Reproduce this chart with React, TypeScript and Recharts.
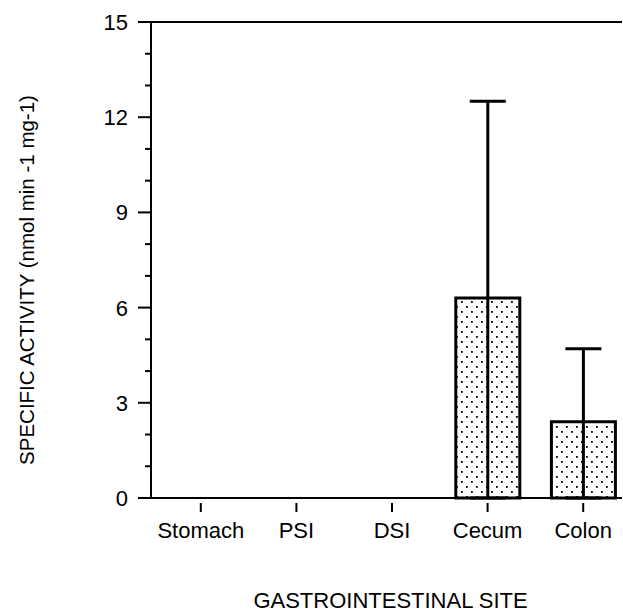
import { BarChart, Bar, XAxis, YAxis, ErrorBar, ReferenceLine, Label } from 'recharts'

const sites = ['Stomach', 'PSI', 'DSI', 'Cecum', 'Colon']
const meanActivity = [0, 0, 0, 6.3, 2.4]
const sdActivity = [0, 0, 0, 6.2, 2.3]
const yTicks = [0, 1, 2, 3, 4, 5, 6, 7, 8, 9, 10, 11, 12, 13, 14, 15]

const data = sites.map((site, i) => ({
  site,
  mean: meanActivity[i],
  // the bars show the SD upward only, the line runs down through the bar to zero
  err: [meanActivity[i], sdActivity[i]],
}))

const FONT = '"Liberation Sans", Arial, Helvetica, sans-serif'

function YTick(props: any) {
  const { x, y, payload } = props
  const major = payload.value % 3 === 0
  return (
    <g>
      <line x1={x - (major ? 13 : 6)} x2={x} y1={y} y2={y} stroke="#000" strokeWidth={2} />
      {major && (
        <text x={x - 23} y={y} dy={8} textAnchor="end" fontSize={22} fontFamily={FONT} fill="#000">
          {payload.value}
        </text>
      )}
    </g>
  )
}

function XTick(props: any) {
  const { x, y, payload } = props
  return (
    <g>
      <line x1={x} x2={x} y1={y + 5} y2={y + 14} stroke="#000" strokeWidth={2} />
      <text x={x} y={y + 40} textAnchor="middle" fontSize={22} fontFamily={FONT} fill="#000">
        {payload.value}
      </text>
    </g>
  )
}

function XTitle(props: any) {
  const vb = props.viewBox
  return (
    <text x={vb.x + vb.width / 2 + 4} y={vb.y + 110} textAnchor="middle" fontSize={22} fontFamily={FONT} fill="#000">
      GASTROINTESTINAL SITE
    </text>
  )
}

function YTitle(props: any) {
  const vb = props.viewBox
  const cx = vb.x - 64
  const cy = vb.y + vb.height / 2 + 20
  return (
    <text x={cx} y={cy} dy={7} transform={`rotate(-90 ${cx} ${cy})`} textAnchor="middle" fontSize={20.5} fontFamily={FONT} fill="#000">
      SPECIFIC ACTIVITY (nmol min -1 mg-1)
    </text>
  )
}

export default function App() {
  return (
    <div style={{ position: 'absolute', left: 0, top: 0, background: '#fff' }}>
      <BarChart width={623} height={614} data={data} margin={{ top: 22, right: 1, bottom: 86, left: 91 }}>
        <defs>
          <pattern id="dots" width={10} height={10} patternUnits="userSpaceOnUse">
            <rect x={1} y={1} width={1.8} height={1.8} fill="#000" />
            <rect x={6} y={6} width={1.8} height={1.8} fill="#000" />
          </pattern>
        </defs>
        <XAxis
          dataKey="site"
          type="category"
          height={30}
          tickSize={0}
          tickMargin={0}
          tick={<XTick />}
          axisLine={{ stroke: '#000', strokeWidth: 2 }}
          padding={{ left: 2, right: -9 }}
          interval={0}
        >
          <Label content={<XTitle />} />
        </XAxis>
        <YAxis
          type="number"
          domain={[0, 15]}
          ticks={yTicks}
          interval={0}
          width={60}
          tickSize={0}
          tickMargin={0}
          tick={<YTick />}
          axisLine={{ stroke: '#000', strokeWidth: 2 }}
        >
          <Label content={<YTitle />} />
        </YAxis>
        <ReferenceLine y={15} stroke="#000" strokeWidth={2} ifOverflow="extendDomain" />
        <Bar dataKey="mean" fill="url(#dots)" stroke="#000" strokeWidth={3} barSize={64} isAnimationActive={false}>
          <ErrorBar dataKey="err" direction="y" width={18} stroke="#000" strokeWidth={3} isAnimationActive={false} />
        </Bar>
      </BarChart>
    </div>
  )
}
